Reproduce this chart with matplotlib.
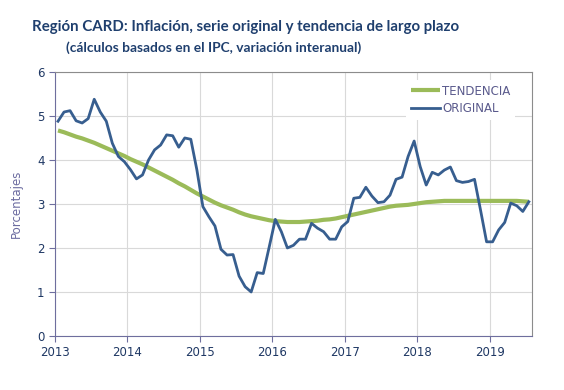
import numpy as np
import matplotlib
matplotlib.use("Agg")
import matplotlib.pyplot as plt

# monthly data, Jan 2013 - Jul 2019
original = [4.88, 5.09, 5.12, 4.89, 4.84, 4.94, 5.38, 5.09, 4.88, 4.38, 4.08, 3.96,
            3.78, 3.57, 3.66, 4.00, 4.23, 4.34, 4.57, 4.55, 4.29, 4.50, 4.47, 3.78,
            2.94, 2.71, 2.50, 1.97, 1.84, 1.85, 1.36, 1.12, 1.00, 1.44, 1.42, 2.03,
            2.65, 2.37, 2.00, 2.06, 2.20, 2.20, 2.56, 2.45, 2.37, 2.20, 2.20, 2.48,
            2.60, 3.13, 3.15, 3.38, 3.18, 3.03, 3.05, 3.20, 3.56, 3.61, 4.08, 4.43,
            3.85, 3.43, 3.72, 3.66, 3.77, 3.84, 3.53, 3.49, 3.51, 3.56, 2.86, 2.14,
            2.14, 2.41, 2.58, 3.02, 2.96, 2.83, 3.05]
tendencia = [4.67, 4.63, 4.58, 4.53, 4.49, 4.44, 4.39, 4.33, 4.27, 4.21, 4.15, 4.09,
             4.02, 3.96, 3.90, 3.83, 3.76, 3.69, 3.62, 3.55, 3.47, 3.40, 3.32, 3.24,
             3.17, 3.10, 3.03, 2.97, 2.92, 2.87, 2.81, 2.76, 2.72, 2.69, 2.66, 2.63,
             2.61, 2.60, 2.59, 2.59, 2.59, 2.60, 2.61, 2.62, 2.64, 2.65, 2.67, 2.70,
             2.73, 2.76, 2.79, 2.82, 2.85, 2.88, 2.91, 2.94, 2.96, 2.97, 2.98, 3.00,
             3.02, 3.04, 3.05, 3.06, 3.07, 3.07, 3.07, 3.07, 3.07, 3.07, 3.07, 3.07,
             3.07, 3.07, 3.07, 3.07, 3.07, 3.06, 3.05]
years = [2013, 2014, 2015, 2016, 2017, 2018, 2019]

n = len(original)
x = 2013 + (np.arange(n) + 0.5) / 12

fig = plt.figure(figsize=(5.64, 3.9), dpi=100)
ax = fig.add_axes([0.0975, 0.1385, 0.8455, 0.677])

ax.plot(x, tendencia, color="#9BBB59", lw=3.0, label="TENDENCIA", solid_capstyle="butt")
ax.plot(x, original, color="#375E8F", lw=2.0, label="ORIGINAL")

ax.set_xlim(2013, 2013 + n / 12)
ax.set_ylim(0, 6)
ax.set_xticks(years)
ax.set_yticks(range(7))
ax.grid(True, color="#D9D9D9", lw=0.8)
ax.set_axisbelow(True)

for side in ["left", "bottom"]:
    ax.spines[side].set_color("#6E6E9E")
for side in ["top", "right"]:
    ax.spines[side].set_color("#8C8C8C")
ax.tick_params(colors="#6E6E9E", labelcolor="#1F3864", labelsize=8.5,
               length=4, direction="out")
ax.set_ylabel("Porcentajes", color="#6B6BA0", fontsize=8.5, labelpad=10)

leg = ax.legend(loc="upper right", bbox_to_anchor=(0.965, 0.97), frameon=True,
                fontsize=8.5, handlelength=2.5, handletextpad=0.15,
                borderaxespad=0.0, labelspacing=0.4)
leg.get_frame().set_facecolor("white")
leg.get_frame().set_edgecolor("none")
leg.get_frame().set_alpha(1)
for t in leg.get_texts():
    t.set_color("#5A5A8C")

title = fig.text(0.057, 0.92, "Región CARD: Inflación, serie original y tendencia de largo plazo",
                 fontsize=11, fontfamily="Lato", fontweight="bold", color="#1F3F6E")
sub = fig.text(0.117, 0.867, "(cálculos basados en el IPC, variación interanual)",
               fontsize=8.5, fontfamily="Lato", fontweight="bold", color="#1F3F6E")

# shrink/grow texts so they span the same width as in the reference
fig.canvas.draw()
r = fig.canvas.get_renderer()
for t, target in [(title, 428), (sub, 295)]:
    w = t.get_window_extent(r).width
    t.set_fontsize(t.get_fontsize() * target / w)

fig.savefig("out.png", dpi=100)
